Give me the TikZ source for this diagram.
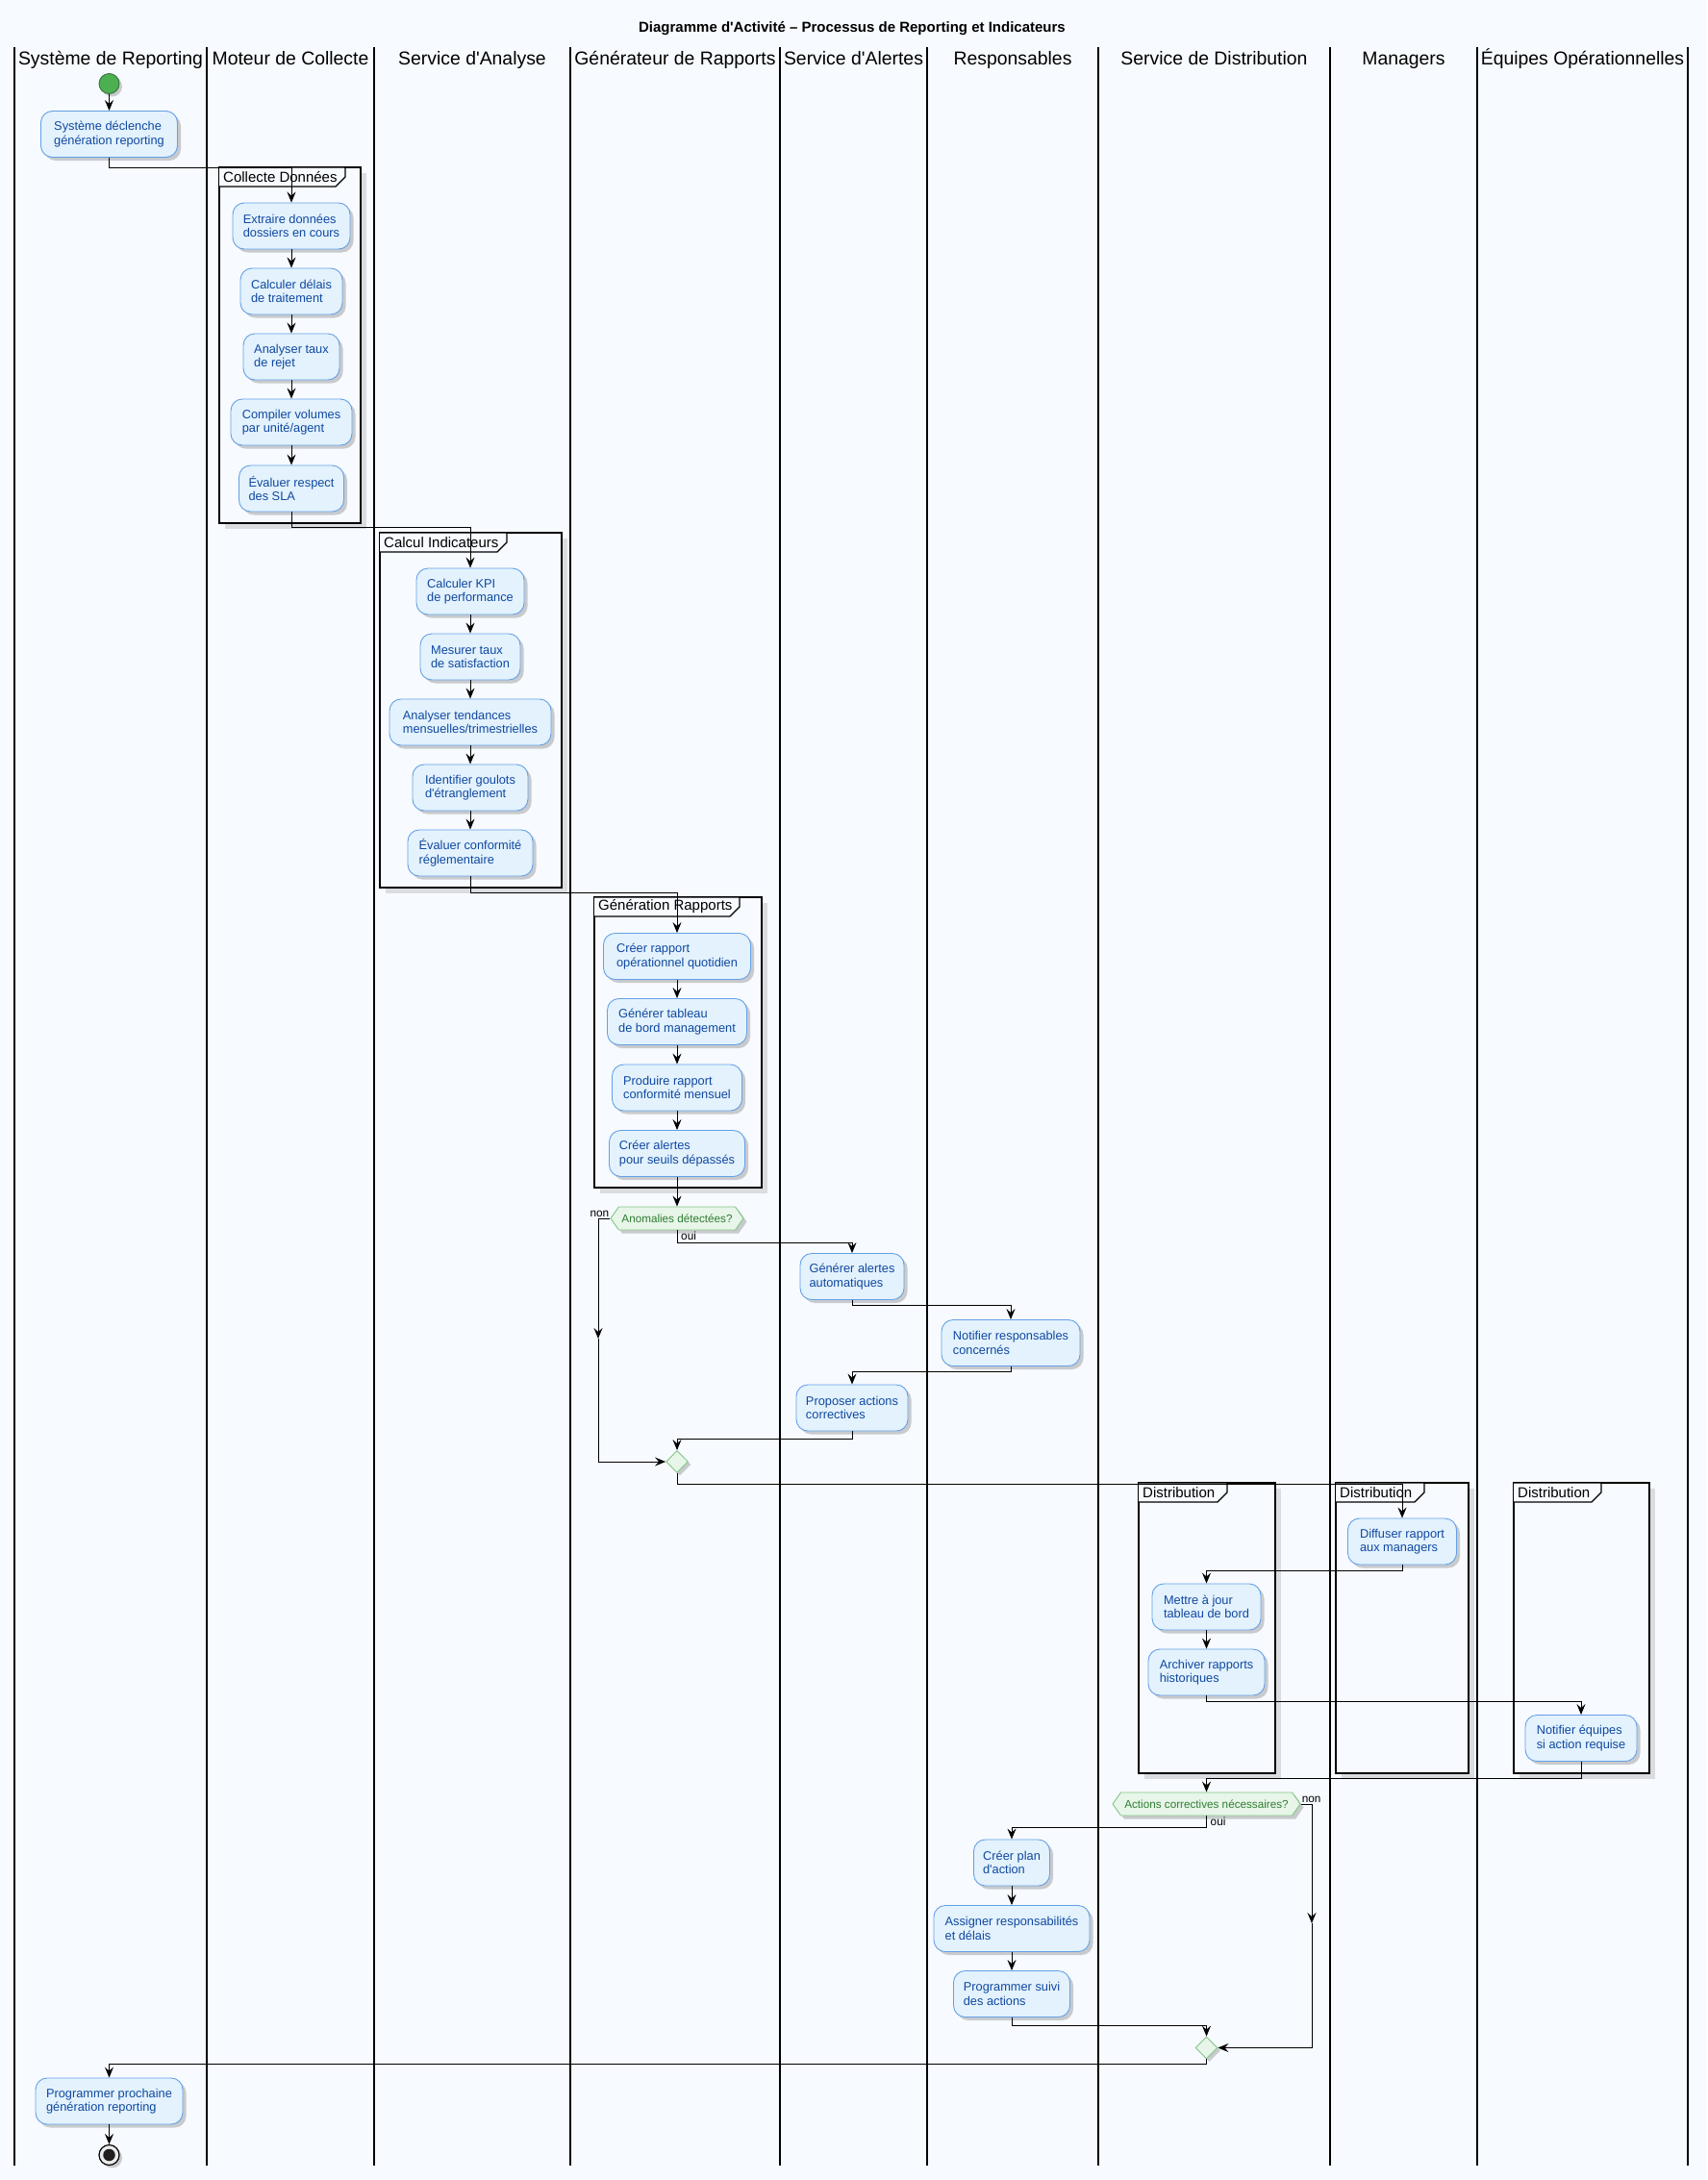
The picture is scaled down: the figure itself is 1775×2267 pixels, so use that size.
\documentclass[tikz,border=0pt]{standalone}
\usepackage{fontspec}
\setmainfont{Liberation Sans}[Ligatures=TeXOff]
\usetikzlibrary{arrows.meta,shapes.geometric,shapes.symbols,shadows}

\definecolor{pagebg}{RGB}{247,250,254}
\definecolor{actfill}{RGB}{227,242,253}
\definecolor{actdraw}{RGB}{100,160,230}
\definecolor{acttext}{RGB}{16,72,160}
\definecolor{decfill}{RGB}{232,245,233}
\definecolor{decdraw}{RGB}{129,199,132}
\definecolor{dectext}{RGB}{46,125,50}
\definecolor{startgreen}{RGB}{76,175,80}
\definecolor{startedge}{RGB}{50,110,55}
\definecolor{framesh}{RGB}{218,220,224}

% partition frame: name, x0, y0, x1, y1, tab right edge, label
\newcommand{\pframe}[7]{%
  \fill[framesh] (#2+6,#3+6) rectangle (#4+6,#5+6);
  \draw[frm] (#2,#3) rectangle (#4,#5);
  \draw[frm] (#2,#3) -- (#6,#3) -- (#6,#3+10) -- (#6-10,#3+20) -- (#2,#3+20);
  \node[flabel] (#1) at (#2+4,#3+10) {#7};
}

\begin{document}
\begin{tikzpicture}[x=1pt,y=-1pt,
  lane/.style={draw=black, line width=1.25pt},
  hdr/.style={anchor=base, inner sep=0pt, font=\fontsize{19.4}{23}\selectfont},
  act/.style={draw=actdraw, fill=actfill, line width=0.9pt, rounded corners=12pt,
    text=acttext, align=left, font=\fontsize{12.8}{14.5}\selectfont,
    minimum height=48pt, inner xsep=8pt, inner ysep=4pt,
    drop shadow={shadow xshift=3.5pt, shadow yshift=-3.5pt, fill=black!55, opacity=0.35}},
  dec/.style={shape=signal, signal to=east and west, signal pointer angle=110,
    draw=decdraw, fill=decfill, line width=0.9pt, text=dectext,
    font=\fontsize{11.7}{14}\selectfont, minimum height=24pt, inner xsep=2pt, inner ysep=0pt,
    drop shadow={shadow xshift=3.5pt, shadow yshift=-3.5pt, fill=black!55, opacity=0.35}},
  merge/.style={diamond, draw=decdraw, fill=decfill, line width=0.9pt, inner sep=0pt,
    minimum width=23pt, minimum height=23pt,
    drop shadow={shadow xshift=3pt, shadow yshift=-3pt, fill=black!55, opacity=0.35}},
  frm/.style={draw=black, line width=1.3pt, fill=pagebg},
  flabel/.style={anchor=west, inner sep=0pt, font=\fontsize{15}{18}\selectfont},
  lbl/.style={inner sep=1pt, font=\fontsize{11.8}{14}\selectfont},
  flow/.style={draw=black, line width=0.9pt, -{Stealth[length=11pt,width=9pt,inset=4pt]}},
]
\fill[pagebg] (0,0) rectangle (1775,2267);
\useasboundingbox (0,0) rectangle (1775,2267);

% title
\node[anchor=base, inner sep=0pt, font=\bfseries\fontsize{15}{18}\selectfont] (title) at (886,34)
  {Diagramme d'Activité – Processus de Reporting et Indicateurs};

% swimlane borders
\foreach \lx in {15,215,389,593,811,964,1142,1383,1536,1755}
  \draw[lane] (\lx,49) -- (\lx,2252);

% swimlane headers
\node[hdr] (h1) at (115,67) {Système de Reporting};
\node[hdr] (h2) at (302,67) {Moteur de Collecte};
\node[hdr] (h3) at (491,67) {Service d'Analyse};
\node[hdr] (h4) at (702,67) {Générateur de Rapports};
\node[hdr] (h5) at (887.5,67) {Service d'Alertes};
\node[hdr] (h6) at (1053,67) {Responsables};
\node[hdr] (h7) at (1262.5,67) {Service de Distribution};
\node[hdr] (h8) at (1459.5,67) {Managers};
\node[hdr] (h9) at (1645.5,67) {Équipes Opérationnelles};

% partitions
\pframe{pf1}{228}{174}{375}{544}{359}{Collecte Données}
\pframe{pf2}{395}{554}{584}{923}{527}{Calcul Indicateurs}
\pframe{pf3}{618}{933}{792}{1235}{769}{Génération Rapports}
\pframe{pf4}{1184}{1542}{1326}{1844}{1276}{Distribution}
\pframe{pf5}{1389}{1542}{1527}{1844}{1481}{Distribution}
\pframe{pf6}{1574}{1542}{1715}{1844}{1665}{Distribution}

% start
\node[circle, fill=startgreen, draw=startedge, line width=0.8pt, minimum size=21pt, inner sep=0pt,
  drop shadow={shadow xshift=3pt, shadow yshift=-3pt, fill=black!55, opacity=0.35}] (start) at (113.5,87) {};

% activities
\node[act, minimum width=142pt] (s1) at (113.5,139.5) {Système déclenche\\génération reporting};
\node[act, minimum width=122pt] (c1) at (303,235) {Extraire données\\dossiers en cours};
\node[act, minimum width=106pt] (c2) at (303,303) {Calculer délais\\de traitement};
\node[act, minimum width=100pt] (c3) at (303,371) {Analyser taux\\de rejet};
\node[act, minimum width=126pt] (c4) at (303,439) {Compiler volumes\\par unité/agent};
\node[act, minimum width=109pt] (c5) at (303,508) {Évaluer respect\\des SLA};
\node[act, minimum width=112pt] (k1) at (489,615) {Calculer KPI\\de performance};
\node[act, minimum width=104pt] (k2) at (489,683) {Mesurer taux\\de satisfaction};
\node[act, minimum width=168pt] (k3) at (489,751) {Analyser tendances\\mensuelles/trimestrielles};
\node[act, minimum width=120pt] (k4) at (489,819) {Identifier goulots\\d'étranglement};
\node[act, minimum width=130pt] (k5) at (489,887) {Évaluer conformité\\réglementaire};
\node[act, minimum width=153pt] (g1) at (704,994.5) {Créer rapport\\opérationnel quotidien};
\node[act, minimum width=145pt] (g2) at (704,1062.5) {Générer tableau\\de bord management};
\node[act, minimum width=135pt] (g3) at (704,1131) {Produire rapport\\conformité mensuel};
\node[act, minimum width=141pt] (g4) at (704,1199.5) {Créer alertes\\pour seuils dépassés};
\node[dec, minimum width=138pt] (d1) at (704,1267) {Anomalies détectées?};
\node[act, minimum width=108pt] (r1) at (886,1327.5) {Générer alertes\\automatiques};
\node[act, minimum width=144pt] (r2) at (1051,1396.5) {Notifier responsables\\concernés};
\node[act, minimum width=116pt] (r3) at (886,1464) {Proposer actions\\correctives};
\node[merge] (m1) at (704,1520) {};
\node[act, minimum width=113pt] (x1) at (1458,1603) {Diffuser rapport\\aux managers};
\node[act, minimum width=113pt] (x2) at (1254.5,1671) {Mettre à jour\\tableau de bord};
\node[act, minimum width=121pt] (x3) at (1254.5,1739) {Archiver rapports\\historiques};
\node[act, minimum width=116pt] (x4) at (1644,1807.5) {Notifier équipes\\si action requise};
\node[dec, minimum width=195pt] (d2) at (1254.5,1876) {Actions correctives nécessaires?};
\node[act, minimum width=79pt] (p1) at (1052,1937) {Créer plan\\d'action};
\node[act, minimum width=162pt] (p2) at (1052,2005.5) {Assigner responsabilités\\et délais};
\node[act, minimum width=121pt] (p3) at (1052,2073.5) {Programmer suivi\\des actions};
\node[merge] (m2) at (1254.5,2129.5) {};
\node[act, minimum width=153pt] (f1) at (113.5,2185) {Programmer prochaine\\génération reporting};

% end
\node[circle, draw=black, line width=1.2pt, fill=black!8, minimum size=21pt, inner sep=0pt,
  drop shadow={shadow xshift=3pt, shadow yshift=-3pt, fill=black!55, opacity=0.35}] (end) at (113.5,2241) {};
\node[circle, fill=black!88, minimum size=12.5pt, inner sep=0pt] (enddot) at (end.center) {};

% branch labels
\node[lbl, anchor=south east] (non1) at (d1.west) {non};
\node[lbl, anchor=north west] (oui1) at ([xshift=3pt]d1.south) {oui};
\node[lbl, anchor=south west] (non2) at (d2.east) {non};
\node[lbl, anchor=north west] (oui2) at ([xshift=3pt]d2.south) {oui};

% bend points carrying mid-line arrows
\coordinate (n1) at (622,1392);
\coordinate (n2) at (1364,2000);

% flow
\draw[flow] (start.south) -- (s1.north);
\draw[flow] (s1.south) -- ++(0,10) -| (c1.north);
\draw[flow] (c1.south) -- (c2.north);
\draw[flow] (c2.south) -- (c3.north);
\draw[flow] (c3.south) -- (c4.north);
\draw[flow] (c4.south) -- (c5.north);
\draw[flow] (c5.south) -- ++(0,16) -| (k1.north);
\draw[flow] (k1.south) -- (k2.north);
\draw[flow] (k2.south) -- (k3.north);
\draw[flow] (k3.south) -- (k4.north);
\draw[flow] (k4.south) -- (k5.north);
\draw[flow] (k5.south) -- ++(0,17) -| (g1.north);
\draw[flow] (g1.south) -- (g2.north);
\draw[flow] (g2.south) -- (g3.north);
\draw[flow] (g3.south) -- (g4.north);
\draw[flow] (g4.south) -- (d1.north);
\draw[flow] (d1.south) -- ++(0,13) -| (r1.north);
\draw[flow] (r1.south) -- ++(0,5) -| (r2.north);
\draw[flow] (r2.south) -- ++(0,5) -| (r3.north);
\draw[flow] (r3.south) -- ++(0,8) -| (m1.north);
\draw[flow] (d1.west) -| (n1);
\draw[flow] (n1) |- (m1.west);
\draw[flow] (m1.south) -- ++(0,11) -| (x1.north);
\draw[flow] (x1.south) -- ++(0,6) -| (x2.north);
\draw[flow] (x2.south) -- (x3.north);
\draw[flow] (x3.south) -- ++(0,6) -| (x4.north);
\draw[flow] (x4.south) -- ++(0,17) -| (d2.north);
\draw[flow] (d2.south) -- ++(0,12) -| (p1.north);
\draw[flow] (p1.south) -- (p2.north);
\draw[flow] (p2.south) -- (p3.north);
\draw[flow] (p3.south) -- ++(0,8) -| (m2.north);
\draw[flow] (d2.east) -| (n2);
\draw[flow] (n2) |- (m2.east);
\draw[flow] (m2.south) -- ++(0,5) -| (f1.north);
\draw[flow] (f1.south) -- (end.north);
\end{tikzpicture}
\end{document}
